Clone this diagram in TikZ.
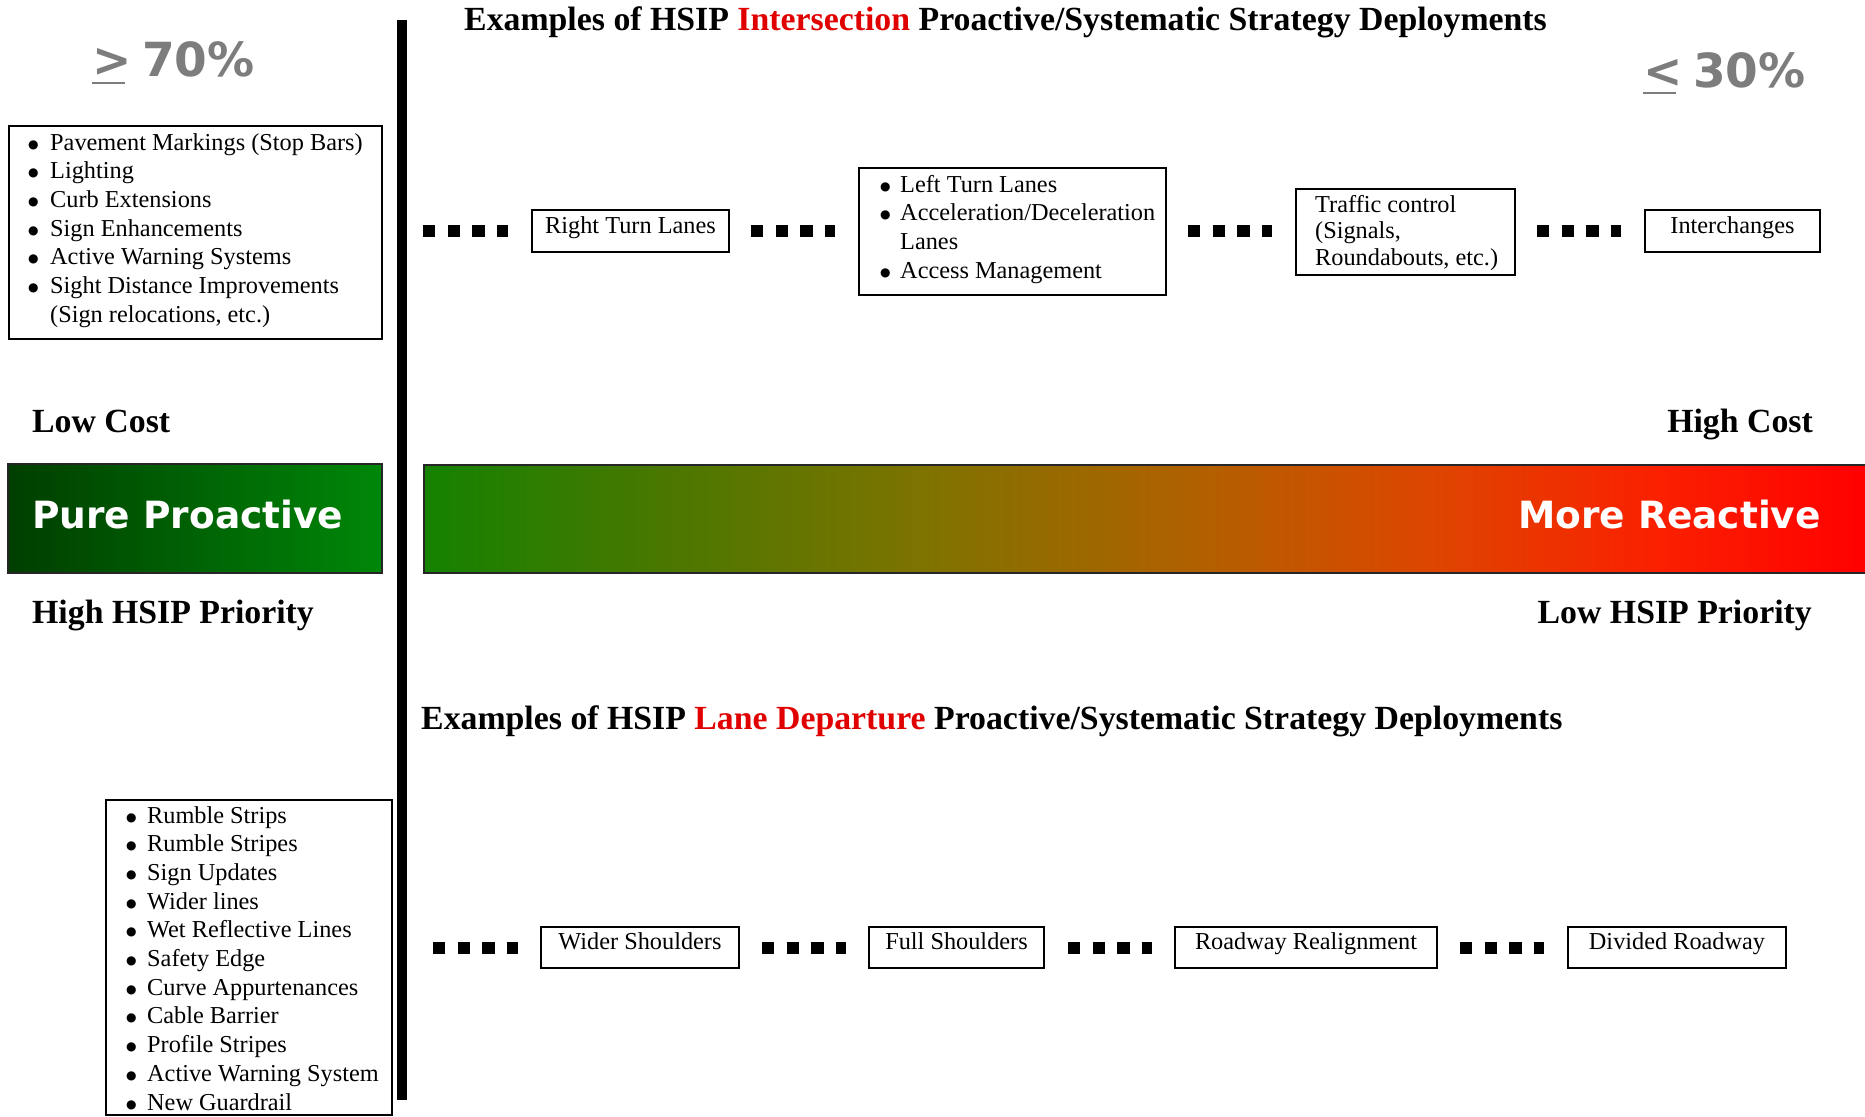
\documentclass[tikz,border=0pt]{standalone}
\usepackage{fontspec}
\setmainfont{Liberation Serif}
\newfontfamily\heavy{DejaVu Sans}
\usetikzlibrary{calc}
\definecolor{hsipred}{RGB}{225,0,0}
\definecolor{pctgray}{RGB}{125,125,125}
\definecolor{gdark}{RGB}{0,62,0}
\definecolor{glight}{RGB}{0,135,8}
\pgfdeclarehorizontalshading{barshade}{100bp}{rgb(0bp)=(0.08,0.51,0); rgb(25bp)=(0.08,0.51,0); rgb(32.5bp)=(0.27,0.47,0); rgb(42.5bp)=(0.5,0.45,0); rgb(52.5bp)=(0.71,0.37,0); rgb(60bp)=(0.87,0.27,0); rgb(67.5bp)=(0.98,0.13,0); rgb(75bp)=(1,0,0); rgb(100bp)=(1,0,0)}
\newcommand\bul[1][18pt]{\makebox[#1][l]{\raisebox{2pt}{\heavy\fontsize{12}{12}\selectfont ●}}}
\newcommand\pctsym[1]{\makebox[50pt][l]{\rlap{\rule[-7pt]{33pt}{2.5pt}}#1}}
\tikzset{
  box/.style={draw=black, line width=2pt, inner sep=0pt},
  sbox/.style={box, font=\fontsize{24.3}{28.7}\selectfont, text height=16pt, text depth=12pt},
  lbl/.style={font=\fontsize{33.8}{38}\selectfont\bfseries, inner sep=0pt},
  item/.style={font=\fontsize{24.3}{28.7}\selectfont, inner sep=0pt},
  pct/.style={font=\fontsize{47}{50}\selectfont\heavy\bfseries, text=pctgray, inner sep=0pt},
  banner/.style={font=\fontsize{37.5}{40}\selectfont\heavy\bfseries, text=white, inner sep=0pt},
  dotline/.style={line width=12pt, dash pattern=on 12.3pt off 12.3pt},
  vline/.style={line width=10pt}
}
\begin{document}
\begin{tikzpicture}[x=1pt,y=-1pt]
\useasboundingbox (0,0) rectangle (1865,1116);
\fill[white] (0,0) rectangle (1865,1116);

% vertical divider
\coordinate (vtop) at (402,20);
\coordinate (vbot) at (402,1100);
\draw[vline] (vtop) -- (vbot);

% titles
\node[lbl, anchor=base west] (t1) at (464,31) {Examples of HSIP \textcolor{hsipred}{Intersection} Proactive/Systematic Strategy Deployments};
\node[lbl, anchor=base west] (t2) at (421,729) {Examples of HSIP \textcolor{hsipred}{Lane Departure} Proactive/Systematic Strategy Deployments};

% percentages
\node[pct, anchor=base west] (p70) at (92,77) {\pctsym{>}70\%};
\node[pct, anchor=base west] (p30) at (1643,87) {\pctsym{<}30\%};

% top-left list
\node[box, minimum width=373pt, minimum height=213pt, anchor=north west] (ibox) at (8,125) {};
\node[item, anchor=base west] (itext) at (28,150) {\begin{tabular}[t]{@{}l@{}l@{}}
\bul[22pt] & Pavement Markings (Stop Bars)\\
\bul[22pt] & Lighting\\
\bul[22pt] & Curb Extensions\\
\bul[22pt] & Sign Enhancements\\
\bul[22pt] & Active Warning Systems\\
\bul[22pt] & Sight Distance Improvements\\
 & (Sign relocations, etc.)
\end{tabular}};

% cost / priority labels
\node[lbl, anchor=base west] (lowcost) at (32,432) {Low Cost};
\node[lbl, anchor=base east] (highcost) at (1813,432) {High Cost};
\node[lbl, anchor=base west] (highprio) at (32,623) {High HSIP Priority};
\node[lbl, anchor=base east] (lowprio) at (1812,623) {Low HSIP Priority};

% green box
\node[draw=black!85, line width=1.5pt, left color=gdark, right color=glight, minimum width=374pt, minimum height=109pt, anchor=north west, inner sep=0pt] (pp) at (7,463) {};
\node[banner, anchor=base west] (ppt) at (32,528) {Pure Proactive};

% gradient bar
\node[draw=black!85, line width=1.5pt, shade, shading=barshade, minimum width=1444pt, minimum height=108pt, anchor=north west, inner sep=0pt] (bar) at (423,464) {};
\node[banner, anchor=base east] (mrt) at (1821,528) {More Reactive};

% top row
\node[sbox, minimum width=197pt, minimum height=42pt] (rtl) at (630.5,231) {Right Turn Lanes};
\node[box, minimum width=307pt, minimum height=127pt] (llb) at (1012.5,231.5) {};
\node[item, anchor=base west] (llt) at (880,192) {\begin{tabular}[t]{@{}l@{}l@{}}
\bul[20pt] & Left Turn Lanes\\
\bul[20pt] & Acceleration/Deceleration\\
 & Lanes\\
\bul[20pt] & Access Management
\end{tabular}};
\node[box, minimum width=219pt, minimum height=86pt] (tc) at (1405.5,232) {};
\node[font=\fontsize{24.3}{26.8}\selectfont, inner sep=0pt, anchor=base west] (tct) at (1315,212) {\begin{tabular}[t]{@{}l@{}}
Traffic control\\
(Signals,\\
Roundabouts, etc.)
\end{tabular}};
\node[sbox, minimum width=175pt, minimum height=42pt] (ic) at (1732.5,231) {Interchanges};

\coordinate (d1s) at (423,231);
\draw[dotline, shorten >=23pt] (d1s) -- (rtl.west);
\draw[dotline, shorten <=21pt, shorten >=23pt] (rtl.east) -- (rtl.east -| llb.west);
\draw[dotline, shorten <=21pt, shorten >=23pt] (rtl.east -| llb.east) -- (rtl.east -| tc.west);
\draw[dotline, shorten <=21pt, shorten >=23pt] (rtl.east -| tc.east) -- (ic.west);

% bottom-left list
\node[box, minimum width=286pt, minimum height=315pt, anchor=north west] (lbox) at (105,799) {};
\node[item, anchor=base west] (ltext) at (126,823) {\begin{tabular}[t]{@{}l@{}l@{}}
\bul[21pt] & Rumble Strips\\
\bul[21pt] & Rumble Stripes\\
\bul[21pt] & Sign Updates\\
\bul[21pt] & Wider lines\\
\bul[21pt] & Wet Reflective Lines\\
\bul[21pt] & Safety Edge\\
\bul[21pt] & Curve Appurtenances\\
\bul[21pt] & Cable Barrier\\
\bul[21pt] & Profile Stripes\\
\bul[21pt] & Active Warning System\\
\bul[21pt] & New Guardrail
\end{tabular}};

% bottom row
\node[sbox, minimum width=198pt, minimum height=41pt] (ws) at (640,947.5) {Wider Shoulders};
\node[sbox, minimum width=175pt, minimum height=41pt] (fs) at (956.5,947.5) {Full Shoulders};
\node[sbox, minimum width=262pt, minimum height=41pt] (rr) at (1306,947.5) {Roadway Realignment};
\node[sbox, minimum width=218pt, minimum height=41pt] (dr) at (1677,947.5) {Divided Roadway};

\coordinate (d5s) at (433,947.5);
\draw[dotline, shorten >=22pt] (d5s) -- (ws.west);
\draw[dotline, shorten <=22pt, shorten >=22pt] (ws.east) -- (fs.west);
\draw[dotline, shorten <=23pt, shorten >=22pt] (fs.east) -- (rr.west);
\draw[dotline, shorten <=22pt, shorten >=23pt] (rr.east) -- (dr.west);
\end{tikzpicture}
\end{document}
